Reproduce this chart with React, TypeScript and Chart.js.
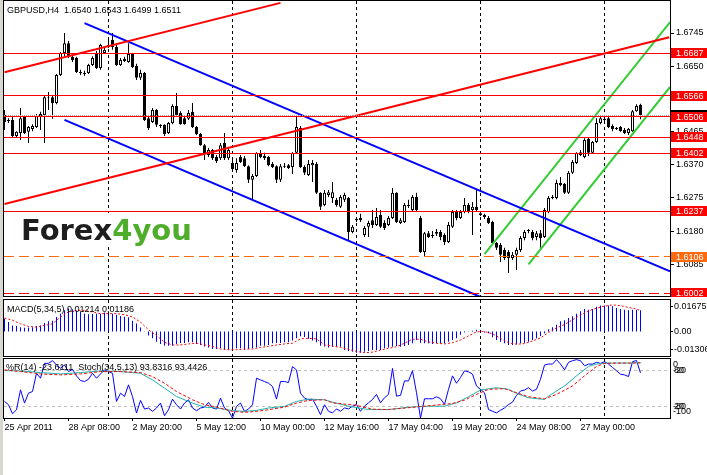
import React, { useEffect, useRef } from "react";
import { Chart, registerables } from "chart.js";

Chart.register(...registerables);
Chart.defaults.font.family = '"Liberation Sans", Arial, sans-serif';
Chart.defaults.font.size = 9;
Chart.defaults.color = "#000";

// ---------------- DATA ----------------
const openPrices = [
  1.6511, 1.6497, 1.6497, 1.6451, 1.646, 1.6505, 1.6463, 1.6471, 1.6477, 1.6505,
  1.6511, 1.6562, 1.6562, 1.6545, 1.6625, 1.6688, 1.6716, 1.6677, 1.6674, 1.6634,
  1.6631, 1.6631, 1.6654, 1.6688, 1.6645, 1.6688, 1.6705, 1.6725, 1.6705, 1.6654,
  1.6665, 1.6662, 1.6685, 1.6651, 1.6617, 1.6631, 1.6502, 1.6491, 1.6525, 1.6483,
  1.6483, 1.646, 1.6488, 1.6537, 1.6517, 1.6502, 1.65, 1.652, 1.6477, 1.6457,
  1.6425, 1.6397, 1.6411, 1.6391, 1.6388, 1.6431, 1.6388, 1.6374, 1.6354, 1.6391,
  1.6388, 1.6365, 1.6326, 1.6337, 1.6403, 1.6394, 1.6391, 1.6371, 1.6365, 1.6326,
  1.6365, 1.6368, 1.6363, 1.6403, 1.6474, 1.6363, 1.634, 1.6368, 1.6371, 1.6289,
  1.6254, 1.6283, 1.6274, 1.6269, 1.6249, 1.6269, 1.6274, 1.6177, 1.6214, 1.6217,
  1.6169, 1.6192, 1.6211, 1.6197, 1.6226, 1.6203, 1.6197, 1.6217, 1.6289, 1.6203,
  1.6206, 1.6251, 1.624, 1.6277, 1.6217, 1.612, 1.6174, 1.6169, 1.6172, 1.6177,
  1.6169, 1.6149, 1.6192, 1.6234, 1.6217, 1.6234, 1.6254, 1.624, 1.6249, 1.6231,
  1.6226, 1.6217, 1.6206, 1.6146, 1.614, 1.6126, 1.612, 1.6103, 1.6112, 1.6126,
  1.616, 1.618, 1.6177, 1.6163, 1.6174, 1.6163, 1.6234, 1.6274, 1.6274, 1.6311,
  1.6314, 1.6289, 1.6346, 1.6374, 1.6397, 1.6391, 1.6443, 1.6403, 1.6434, 1.6488,
  1.65, 1.6502, 1.648, 1.6474, 1.6477, 1.6468, 1.646, 1.6465, 1.6522, 1.654,
];
const closePrices = [
  1.6491, 1.6494, 1.6451, 1.6463, 1.6502, 1.646, 1.6477, 1.648, 1.6508, 1.6514,
  1.6562, 1.656, 1.6545, 1.6625, 1.6688, 1.6716, 1.6677, 1.6668, 1.6634, 1.6631,
  1.6628, 1.6654, 1.6674, 1.6645, 1.6711, 1.6697, 1.6711, 1.6705, 1.6654, 1.6668,
  1.6671, 1.6685, 1.6648, 1.6617, 1.6631, 1.6497, 1.6474, 1.6525, 1.6483, 1.648,
  1.6457, 1.6488, 1.6537, 1.6511, 1.6485, 1.6485, 1.6517, 1.6477, 1.6457, 1.6425,
  1.64, 1.6411, 1.6388, 1.638, 1.6425, 1.6388, 1.6411, 1.6357, 1.6374, 1.6377,
  1.6365, 1.6326, 1.6337, 1.6403, 1.6391, 1.6388, 1.6368, 1.6363, 1.6326, 1.6365,
  1.6363, 1.636, 1.6403, 1.6477, 1.6363, 1.6346, 1.6371, 1.6374, 1.6289, 1.6249,
  1.6289, 1.6291, 1.6291, 1.6254, 1.6277, 1.6283, 1.6177, 1.6192, 1.6211, 1.6211,
  1.6189, 1.6203, 1.6197, 1.622, 1.6192, 1.6189, 1.6217, 1.6289, 1.6206, 1.6211,
  1.6254, 1.6254, 1.6277, 1.624, 1.612, 1.6174, 1.6163, 1.6166, 1.6177, 1.6163,
  1.6149, 1.6197, 1.6234, 1.6217, 1.6234, 1.6254, 1.6234, 1.6249, 1.624, 1.6226,
  1.622, 1.6203, 1.6146, 1.6132, 1.6112, 1.6103, 1.6103, 1.6112, 1.6126, 1.616,
  1.6177, 1.6183, 1.616, 1.6174, 1.616, 1.624, 1.6274, 1.6277, 1.6317, 1.6317,
  1.6289, 1.6346, 1.6377, 1.6403, 1.6405, 1.644, 1.6403, 1.6434, 1.6488, 1.6502,
  1.6497, 1.6477, 1.6471, 1.6471, 1.6465, 1.646, 1.6471, 1.6522, 1.6537, 1.6511,
];
const highPrices = [
  1.6525, 1.6502, 1.6505, 1.6465, 1.6531, 1.6508, 1.648, 1.6485, 1.6514, 1.652,
  1.6565, 1.6577, 1.6565, 1.6628, 1.6691, 1.6745, 1.6722, 1.6682, 1.6677, 1.664,
  1.6637, 1.6657, 1.6679, 1.6694, 1.6714, 1.6702, 1.6725, 1.6745, 1.6711, 1.6674,
  1.6677, 1.6716, 1.6688, 1.6657, 1.664, 1.6634, 1.6508, 1.6531, 1.6528, 1.6485,
  1.6485, 1.6491, 1.6542, 1.6574, 1.6522, 1.6508, 1.6525, 1.6545, 1.648, 1.646,
  1.6428, 1.6417, 1.6414, 1.6397, 1.6431, 1.646, 1.6417, 1.6391, 1.6388, 1.6397,
  1.6394, 1.6368, 1.6343, 1.6405, 1.6411, 1.6403, 1.6394, 1.6377, 1.6368, 1.6371,
  1.6374, 1.6371, 1.6405, 1.6511, 1.648, 1.6368, 1.6383, 1.6383, 1.6377, 1.6291,
  1.6297, 1.6297, 1.632, 1.6274, 1.6283, 1.6289, 1.6277, 1.6197, 1.622, 1.6229,
  1.6194, 1.6209, 1.624, 1.6246, 1.624, 1.6211, 1.6223, 1.6303, 1.6291, 1.6217,
  1.626, 1.6269, 1.6283, 1.6289, 1.6223, 1.6177, 1.618, 1.618, 1.6186, 1.6183,
  1.6174, 1.6206, 1.624, 1.624, 1.624, 1.6274, 1.626, 1.6263, 1.6297, 1.6234,
  1.6229, 1.6223, 1.6209, 1.6149, 1.6146, 1.6132, 1.6126, 1.612, 1.6132, 1.6166,
  1.6183, 1.6186, 1.6183, 1.618, 1.6183, 1.6246, 1.628, 1.6283, 1.6326, 1.6334,
  1.6317, 1.6351, 1.6383, 1.6405, 1.6411, 1.6445, 1.6448, 1.6437, 1.6502, 1.6505,
  1.6508, 1.6508, 1.6485, 1.6477, 1.648, 1.6474, 1.6474, 1.6525, 1.6542, 1.6543,
];
const lowPrices = [
  1.6468, 1.6488, 1.6448, 1.6448, 1.644, 1.6457, 1.6431, 1.6465, 1.6474, 1.6468,
  1.6431, 1.6525, 1.65, 1.6542, 1.6622, 1.6679, 1.6674, 1.6662, 1.6631, 1.6625,
  1.6622, 1.6628, 1.6651, 1.6642, 1.664, 1.6685, 1.6702, 1.6697, 1.6651, 1.6651,
  1.6662, 1.666, 1.6645, 1.6611, 1.6611, 1.6494, 1.6468, 1.6488, 1.6477, 1.6474,
  1.6451, 1.6457, 1.6485, 1.6508, 1.6483, 1.6483, 1.6497, 1.6474, 1.6454, 1.6423,
  1.6383, 1.6391, 1.6383, 1.6374, 1.6383, 1.6383, 1.6383, 1.6354, 1.6346, 1.6374,
  1.6363, 1.6317, 1.6269, 1.6334, 1.6388, 1.6383, 1.6365, 1.636, 1.6317, 1.632,
  1.636, 1.6357, 1.6343, 1.64, 1.636, 1.634, 1.6337, 1.632, 1.6286, 1.624,
  1.6251, 1.6277, 1.626, 1.6249, 1.6246, 1.6263, 1.6154, 1.6174, 1.6206, 1.6206,
  1.6163, 1.6163, 1.6189, 1.6194, 1.6189, 1.6183, 1.6194, 1.6214, 1.6203, 1.62,
  1.6203, 1.6246, 1.6237, 1.6237, 1.6117, 1.6109, 1.616, 1.616, 1.6166, 1.6154,
  1.614, 1.6146, 1.6189, 1.6211, 1.6214, 1.6231, 1.6231, 1.6169, 1.6237, 1.6223,
  1.6214, 1.62, 1.6143, 1.6126, 1.6092, 1.6097, 1.606, 1.6097, 1.6069, 1.612,
  1.6154, 1.6174, 1.6154, 1.6154, 1.6132, 1.616, 1.6231, 1.6271, 1.6271, 1.6308,
  1.6286, 1.6286, 1.6343, 1.6371, 1.6394, 1.6388, 1.6394, 1.64, 1.6431, 1.6485,
  1.6494, 1.6474, 1.6465, 1.6468, 1.6463, 1.6457, 1.6454, 1.6463, 1.652, 1.6499,
];

const macdHist = [
  0.0073, 0.0054, 0.0035, 0.0031, 0.0025, 0.0021, 0.0023, 0.0025, 0.0031, 0.0035,
  0.0048, 0.0058, 0.0062, 0.0083, 0.0102, 0.0121, 0.0131, 0.0127, 0.0119, 0.0112,
  0.0102, 0.0098, 0.01, 0.0102, 0.0102, 0.0108, 0.0102, 0.0102, 0.0096, 0.0089,
  0.0085, 0.0081, 0.0062, 0.0046, 0.0023, -0.0002, -0.0023, -0.0039, -0.0058, -0.0071,
  -0.0081, -0.0081, -0.0081, -0.0071, -0.0066, -0.0066, -0.0062, -0.0062, -0.0071, -0.0077,
  -0.0085, -0.0091, -0.01, -0.01, -0.0096, -0.0104, -0.0104, -0.01, -0.0096, -0.0096,
  -0.0104, -0.01, -0.0096, -0.0091, -0.0081, -0.0081, -0.0077, -0.0067, -0.0066, -0.0066,
  -0.0062, -0.0062, -0.0052, -0.0039, -0.0027, -0.0031, -0.0042, -0.0052, -0.0062, -0.0081,
  -0.0085, -0.0091,
  -0.0087, -0.0087, -0.0087, -0.0106, -0.0112, -0.0116, -0.0121, -0.0121, -0.0116, -0.0112,
  -0.0106, -0.0106, -0.0106, -0.0096, -0.0091, -0.0087, -0.0083, -0.0087, -0.0083, -0.0077,
  -0.0067, -0.0048, -0.0064, -0.0067, -0.0067, -0.0071, -0.0067, -0.0067, -0.0067, -0.0058,
  -0.0048, -0.0039, -0.0019, -0.0006, 0.0002, 0.0004, 0.001, -0.0003, -0.0006, -0.001,
  -0.0033, -0.0048, -0.0058, -0.0067, -0.0077, -0.0077, -0.0073, -0.0067, -0.0064, -0.0058,
  -0.0048, -0.0039, -0.0025, -0.001, 0.0013, 0.0025, 0.0039, 0.0058, 0.0064, 0.0077,
  0.0087, 0.0102, 0.0116, 0.0129, 0.0125, 0.0129, 0.0141, 0.0148, 0.0148, 0.0148,
  0.0145, 0.0135, 0.0129, 0.0125, 0.0121, 0.0125, 0.0125, 0.01214,
];
const macdSignalBars = [
  0, 2, 4, 6, 8, 10, 12, 14, 16, 18, 20, 22, 24, 26, 28, 30, 32, 34, 36, 38,
  40, 42, 44, 46, 48, 50, 52, 54, 56, 58, 60, 62, 64, 66, 68, 70, 72, 74, 76, 78,
  80, 82, 84, 86, 88, 90, 92, 94, 96, 98, 100, 102, 104, 106, 108, 110, 112, 114, 116, 118,
  120, 122, 124, 126, 128, 130, 132, 134, 136, 138, 140, 142, 144, 146, 148, 150, 152, 154, 156, 158, 159,
];
const macdSignalVals = [
  0.0077, 0.0064, 0.0044, 0.0029, 0.0025, 0.0035, 0.0044, 0.0083, 0.0112, 0.0121,
  0.0121, 0.0112, 0.0102, 0.0102, 0.0102, 0.0096, 0.0083, 0.0054, 0.001, -0.0023,
  -0.0062, -0.0077, -0.0077, -0.0071, -0.0066, -0.0077, -0.0085, -0.01, -0.0104, -0.0104,
  -0.01, -0.01, -0.0091, -0.0085, -0.0077, -0.0071, -0.0067, -0.0042, -0.0039, -0.0042,
  -0.0077, -0.0083, -0.0091, -0.0102, -0.0114, -0.0121, -0.0118, -0.0106, -0.0096, -0.0087,
  -0.0067, -0.0044, -0.0044, -0.006, -0.0067, -0.0071, -0.0064, -0.0048, -0.0025, -0.0002,
  0.0, -0.0013, -0.0039, -0.0064, -0.0073, -0.0069, -0.0054, -0.0037, -0.0006, 0.0021,
  0.004, 0.0067, 0.0094, 0.0118, 0.0133, 0.0145, 0.0152, 0.0148, 0.0137, 0.0129, 0.01186,
];
const macdAxisLabels = [0.01675, 0.0, -0.01306];

const williamsR = [
  -71.9, -77.5, -92.7, -86.0, -52.2, -74.7, -57.9, -55.1, -24.2, -32.6,
  -7.3, -7.3, -2.8, -10.1, -15.7, -10.1, -21.3, -17.4, -28.7, -36.5,
  -38.2, -34.3, -24.2, -32.6, -25.3, -18.5, -21.3, -24.2, -71.9, -57.9,
  -63.5, -43.8, -63.5, -91.6, -70.2, -84.8, -83.1, -88.8, -83.1, -74.7,
  -96.1, -86.0, -68.0, -77.5, -84.8, -74.7, -69.1, -83.1, -87.6, -83.1,
  -81.5, -73.6, -83.1, -84.8, -66.3, -83.1, -87.6, -100, -80.3, -74.7,
  -88.8, -84.8, -77.5, -32.6, -35.4, -38.2, -41.0, -46.6, -68.0, -38.2,
  -38.2, -39.9, -12.9, -18.5, -57.9, -66.3, -69.1, -68.0, -80.3, -94.4,
  -77.5, -88.6, -91.4, -84.6, -88.6, -82.9, -84.6, -80.0, -77.1, -88.6,
  -80.0, -74.3, -68.6, -60.0, -74.3, -65.7, -60.0, -16.0, -62.9, -61.7,
  -37.1, -37.1, -20.0, -57.1, -100, -67.4, -67.4, -67.4, -64.0, -67.4,
  -77.1, -51.4, -28.6, -41.1, -31.4, -20.0, -21.7, -25.7, -45.7, -51.4,
  -57.1, -85.7, -88.6, -91.4, -86.9, -82.9, -77.1, -73.1, -61.7, -54.3,
  -52.6, -48.6, -54.3, -51.4, -34.3, -10.3, -8.6, -8.6, -1.1, -8.6,
  -18.3, -5.7, -2.9, -1.1, -2.9, -11.4, -8.6, -8.6, -5.7, -7.4,
  -4.6, -8.6, -14.3, -20.0, -25.7, -27.0, -29.7, -4.6, -2.5, -23.6111,
];
const stochMainBars = [
  0, 4, 9, 14, 19, 24, 29, 34, 37, 40, 43, 47, 50, 53, 57, 60, 63, 66, 70, 73, 76, 80,
  82, 86, 91, 96, 101, 106, 110, 113, 116, 119, 123, 126, 128, 131, 135, 136, 140, 143, 146, 148, 150, 153, 156, 159,
];
const stochMainVals = [
  80.3, 79.8, 77.0, 74.7, 77.0, 79.8, 78.7, 75.8, 64.6, 50.6, 36.5, 25.3, 18.5, 16.9, 12.4, 11.2, 12.9, 16.9, 19.7, 28.1, 32.0, 30.9,
  26.9, 20.0, 14.3, 14.3, 18.3, 20.0, 20.0, 25.7, 36.0, 47.4, 51.4, 48.6, 41.7, 34.3, 31.4, 37.1, 54.3, 71.4, 87.4, 91.4, 93.1, 93.1, 93.1, 93.8316,
];
const stochSignalBars = [
  0, 4, 9, 14, 19, 24, 29, 34, 37, 40, 43, 47, 50, 53, 57, 60, 63, 66, 70, 73, 76, 80,
  82, 88, 92, 96, 105, 112, 115, 118, 121, 125, 128, 131, 135, 138, 142, 145, 148, 150, 153, 156, 159,
];
const stochSignalVals = [
  81.5, 78.7, 74.7, 73.0, 74.7, 78.7, 78.7, 77.0, 70.2, 59.0, 44.9, 30.9, 22.5, 18.5, 11.2, 9.6, 11.2, 14.0, 18.5, 25.3, 29.8, 30.9,
  25.7, 21.5, 15.0, 14.3, 20.0, 24.6, 30.3, 40.0, 48.6, 49.7, 42.9, 36.0, 32.6, 40.0, 54.3, 71.4, 87.4, 92.6, 93.1, 93.1, 93.4426,
];
const stochLevels = [80, 20];
const wprLevels = [-20, -80];

const priceAxisTicks = [1.6745, 1.665, 1.656, 1.6465, 1.637, 1.6275, 1.618, 1.6085];
const solidLevels = [1.6687, 1.6566, 1.6506, 1.6448, 1.6402, 1.6237];
const orangeLevels = [1.6106];
const dashedRedLevels = [1.6002];
const bidPrice = 1.6511;

const redChannelUpper = [{ x: 0, y: 1.6633 }, { x: 69, y: 1.6831 }];
const redChannelLower = [{ x: 0, y: 1.6257 }, { x: 166.2, y: 1.6733 }];
const blueChannelUpper = [{ x: 20, y: 1.6773 }, { x: 166.4, y: 1.6065 }];
const blueChannelLower = [{ x: 15, y: 1.6497 }, { x: 119, y: 1.5992 }];
const greenChannelUpper = [{ x: 120, y: 1.6114 }, { x: 166.4, y: 1.6776 }];
const greenChannelLower = [{ x: 131, y: 1.6085 }, { x: 166.4, y: 1.6591 }];

const timeLabelBars = [0, 16, 32, 48, 64, 80, 96, 112, 128, 144];
const timeLabels = [
  "25 Apr 2011", "28 Apr 08:00", "2 May 20:00", "5 May 12:00", "10 May 00:00",
  "12 May 16:00", "17 May 04:00", "19 May 20:00", "24 May 08:00", "27 May 00:00",
];
const gridBars = [26, 57, 88, 119, 150];

const headerText = "GBPUSD,H4  1.6540 1.6543 1.6499 1.6511";
const macdTitle = "MACD(5,34,5) 0.01214 0.01186";
const oscTitle = "%R(14) -23.6111  Stoch(34,5,13) 93.8316 93.4426";

// ---------------- AXIS RANGES ----------------
const X_MIN = -0.125;
const X_MAX = 166.375;
const MAIN_MAX = 1.68363;
const MAIN_MIN = 1.599464;
const MACD_MAX = 0.018;
const MACD_MIN = -0.014;

const FONT = '9px "Liberation Sans", Arial, sans-serif';

function drawGrid(chart: any) {
  const { ctx, chartArea: a, scales } = chart;
  const xs = scales.x;
  ctx.save();
  ctx.strokeStyle = "#000";
  ctx.lineWidth = 1;
  ctx.setLineDash([3, 3]);
  for (const b of gridBars) {
    const x = Math.round(xs.getPixelForValue(b) - 0.5) + 0.5;
    ctx.beginPath();
    ctx.moveTo(x, a.top);
    ctx.lineTo(x, a.bottom);
    ctx.stroke();
  }
  ctx.restore();
}

function drawFrame(chart: any) {
  const { ctx, chartArea: a } = chart;
  ctx.save();
  ctx.strokeStyle = "#000";
  ctx.lineWidth = 1;
  ctx.setLineDash([]);
  ctx.strokeRect(a.left - 0.5, a.top - 0.5, a.right - a.left + 1, a.bottom - a.top + 1);
  ctx.restore();
}

function drawText(ctx: any, text: string, x: number, y: number, color = "#000", baseline = "alphabetic") {
  ctx.save();
  ctx.font = FONT;
  ctx.fillStyle = color;
  ctx.textBaseline = baseline;
  ctx.fillText(text, x, y);
  ctx.restore();
}

const mainPlugin = {
  id: "mainDecor",
  beforeDatasetsDraw(chart: any) {
    drawGrid(chart);
  },
  afterDatasetsDraw(chart: any) {
    const { ctx, chartArea: a, scales } = chart;
    const ys = scales.y;
    const py = (p: number) => Math.round(ys.getPixelForValue(p) - 0.5) + 0.5;
    const hline = (y: number) => {
      ctx.beginPath();
      ctx.moveTo(a.left, y);
      ctx.lineTo(a.right, y);
      ctx.stroke();
    };
    ctx.save();
    ctx.beginPath();
    ctx.rect(a.left, a.top, a.right - a.left, a.bottom - a.top);
    ctx.clip();
    ctx.lineWidth = 1;
    ctx.strokeStyle = "#a8a8a8";
    ctx.setLineDash([1, 1]);
    hline(py(bidPrice));
    ctx.setLineDash([]);
    ctx.strokeStyle = "#ff0000";
    solidLevels.forEach((p) => hline(py(p)));
    ctx.setLineDash([10, 5]);
    ctx.strokeStyle = "#ff6a10";
    orangeLevels.forEach((p) => hline(py(p)));
    ctx.strokeStyle = "#ff0000";
    dashedRedLevels.forEach((p) => hline(py(p)));
    ctx.restore();

    // logo
    ctx.save();
    ctx.fillStyle = "#ffffff";
    ctx.fillRect(18, 213, 175, 33);
    ctx.font = 'bold 29px "DejaVu Sans", sans-serif';
    ctx.textBaseline = "alphabetic";
    ctx.fillStyle = "#1e1e1e";
    ctx.fillText("Forex", 21, 240);
    const w = ctx.measureText("Forex").width;
    ctx.fillStyle = "#4fad2c";
    ctx.fillText("4you", 21 + w, 240);
    ctx.restore();

    drawText(ctx, headerText, 7, 13);
  },
  afterDraw(chart: any) {
    const { ctx, chartArea: a, scales } = chart;
    const ys = scales.y;
    const box = (p: number, bg: string) => {
      const cy = Math.round(ys.getPixelForValue(p));
      ctx.fillStyle = bg;
      ctx.fillRect(a.right + 1, cy - 5, 707 - a.right - 1, 10);
      drawText(ctx, p.toFixed(4), a.right + 6, cy + 0.5, "#fff", "middle");
    };
    ctx.save();
    box(bidPrice, "#000000");
    solidLevels.forEach((p) => box(p, "#ff0000"));
    orangeLevels.forEach((p) => box(p, "#ff6a10"));
    dashedRedLevels.forEach((p) => box(p, "#ff0000"));
    ctx.restore();
    drawFrame(chart);
  },
};

const macdPlugin = {
  id: "macdDecor",
  beforeDatasetsDraw(chart: any) {
    drawGrid(chart);
  },
  afterDraw(chart: any) {
    const { ctx, chartArea: a, scales } = chart;
    const ys = scales.y;
    drawText(ctx, macdTitle, 7, 14);
    drawFrame(chart);
    const pos = [
      ys.getPixelForValue(macdAxisLabels[0]) + 4.5,
      ys.getPixelForValue(macdAxisLabels[1]),
      ys.getPixelForValue(macdAxisLabels[2]) - 5,
    ];
    const txt = [macdAxisLabels[0].toFixed(5), "0.00", macdAxisLabels[2].toFixed(5)];
    ctx.save();
    ctx.strokeStyle = "#000";
    ctx.lineWidth = 1;
    pos.forEach((y, i) => {
      const yy = Math.round(y - 0.5) + 0.5;
      ctx.beginPath();
      ctx.moveTo(a.right, yy);
      ctx.lineTo(a.right + 3, yy);
      ctx.stroke();
      drawText(ctx, txt[i], a.right + 4, y, "#000", "middle");
    });
    ctx.restore();
  },
};

const oscPlugin = {
  id: "oscDecor",
  beforeDatasetsDraw(chart: any) {
    const { ctx, chartArea: a, scales } = chart;
    drawGrid(chart);
    ctx.save();
    ctx.strokeStyle = "#c0c0c0";
    ctx.lineWidth = 1;
    ctx.setLineDash([3, 3]);
    stochLevels.forEach((v) => {
      const y = Math.round(scales.yS.getPixelForValue(v) - 0.5) + 0.5;
      ctx.beginPath();
      ctx.moveTo(a.left, y);
      ctx.lineTo(a.right, y);
      ctx.stroke();
    });
    ctx.restore();
  },
  afterDraw(chart: any) {
    const { ctx, chartArea: a, scales } = chart;
    drawText(ctx, oscTitle, 6, 13);
    drawFrame(chart);
    const yR = scales.yR;
    const yS = scales.yS;
    const x = a.right + 3;
    drawText(ctx, "0", x, yR.getPixelForValue(0) + 5.5, "#000", "middle");
    drawText(ctx, String(wprLevels[0]), x, yR.getPixelForValue(wprLevels[0]), "#000", "middle");
    drawText(ctx, String(stochLevels[0]), x + 1, yS.getPixelForValue(stochLevels[0]), "#000", "middle");
    drawText(ctx, String(stochLevels[1]), x + 1, yS.getPixelForValue(stochLevels[1]), "#000", "middle");
    drawText(ctx, String(wprLevels[1]), x, yR.getPixelForValue(wprLevels[1]), "#000", "middle");
    drawText(ctx, "-100", x, yR.getPixelForValue(-100) - 6.5, "#000", "middle");
  },
};

function hiddenX() {
  return { type: "linear", min: X_MIN, max: X_MAX, offset: false, display: false };
}

function baseOptions(padding: any) {
  return {
    responsive: false,
    animation: false,
    events: [],
    layout: { padding },
    plugins: { legend: { display: false }, tooltip: { enabled: false } },
  };
}

function mainConfig(): any {
  const idx = openPrices.map((_, i) => i);
  const trend = (data: any, color: string) => ({
    type: "line",
    data,
    borderColor: color,
    borderWidth: 2,
    pointRadius: 0,
    tension: 0,
    fill: false,
    clip: 0,
    order: 0,
  });
  return {
    type: "bar",
    data: {
      datasets: [
        trend(redChannelUpper, "#ff0000"),
        trend(redChannelLower, "#ff0000"),
        trend(blueChannelUpper, "#0000ff"),
        trend(blueChannelLower, "#0000ff"),
        trend(greenChannelUpper, "#32cd32"),
        trend(greenChannelLower, "#32cd32"),
        {
          type: "bar",
          data: idx.map((i) => ({ x: i, y: [openPrices[i], closePrices[i]] })),
          backgroundColor: idx.map((i) => (closePrices[i] >= openPrices[i] ? "#ffffff" : "#000000")),
          borderColor: "#000000",
          borderWidth: 1,
          borderSkipped: false,
          barThickness: 3,
          grouped: false,
          inflateAmount: 0,
          order: 1,
        },
        {
          type: "bar",
          data: idx.map((i) => ({ x: i, y: [lowPrices[i], highPrices[i]] })),
          backgroundColor: "#000000",
          borderWidth: 0,
          barThickness: 1,
          grouped: false,
          inflateAmount: 0,
          order: 2,
        },
      ],
    },
    options: {
      ...baseOptions({ left: 4, top: 1, right: 0, bottom: 1 }),
      scales: {
        x: hiddenX(),
        y: {
          type: "linear",
          position: "right",
          min: MAIN_MIN,
          max: MAIN_MAX,
          afterBuildTicks: (s: any) => {
            s.ticks = priceAxisTicks.map((v) => ({ value: v }));
          },
          afterFit: (s: any) => {
            s.width = 37;
            s.paddingTop = 0;
            s.paddingBottom = 0;
          },
          grid: { drawOnChartArea: false, drawTicks: true, tickLength: 4, color: "#000" },
          border: { display: false },
          ticks: {
            padding: 2,
            color: "#000",
            autoSkip: false,
            font: { size: 9 },
            callback: (v: any) => Number(v).toFixed(4),
          },
        },
      },
    },
    plugins: [mainPlugin],
  };
}

function macdConfig(): any {
  return {
    type: "bar",
    data: {
      datasets: [
        {
          type: "line",
          data: macdSignalBars.map((b, k) => ({ x: b, y: macdSignalVals[k] })),
          borderColor: "#ff0000",
          borderWidth: 1,
          borderDash: [2, 2],
          pointRadius: 0,
          tension: 0,
          fill: false,
          order: 0,
        },
        {
          type: "bar",
          data: macdHist.map((v, i) => ({ x: i, y: v })),
          backgroundColor: "#0000ff",
          borderWidth: 0,
          barThickness: 1,
          grouped: false,
          inflateAmount: 0,
          order: 1,
        },
      ],
    },
    options: {
      ...baseOptions({ left: 4, top: 2, right: 37, bottom: 2 }),
      scales: {
        x: hiddenX(),
        y: { type: "linear", display: false, min: MACD_MIN, max: MACD_MAX },
      },
    },
    plugins: [macdPlugin],
  };
}

function oscConfig(): any {
  return {
    type: "line",
    data: {
      datasets: [
        {
          data: williamsR.map((v, i) => ({ x: i, y: v })),
          yAxisID: "yR",
          borderColor: "#0000ff",
          borderWidth: 1,
          pointRadius: 0,
          tension: 0,
          fill: false,
          order: 2,
        },
        {
          data: stochMainBars.map((b, k) => ({ x: b, y: stochMainVals[k] })),
          yAxisID: "yS",
          borderColor: "#20b2aa",
          borderWidth: 1,
          pointRadius: 0,
          tension: 0,
          fill: false,
          order: 1,
        },
        {
          data: stochSignalBars.map((b, k) => ({ x: b, y: stochSignalVals[k] })),
          yAxisID: "yS",
          borderColor: "#ff0000",
          borderWidth: 1,
          borderDash: [3, 2],
          pointRadius: 0,
          tension: 0,
          fill: false,
          order: 0,
        },
      ],
    },
    options: {
      ...baseOptions({ left: 4, top: 2, right: 37, bottom: 0 }),
      scales: {
        x: {
          type: "linear",
          position: "bottom",
          min: X_MIN,
          max: X_MAX,
          offset: false,
          afterBuildTicks: (s: any) => {
            s.ticks = timeLabelBars.map((v) => ({ value: v }));
          },
          afterFit: (s: any) => {
            s.height = 57;
            s.paddingLeft = 0;
            s.paddingRight = 0;
          },
          grid: { drawOnChartArea: false, drawTicks: true, tickLength: 3, color: "#000" },
          border: { display: false },
          ticks: {
            align: "start",
            padding: 1,
            color: "#000",
            autoSkip: false,
            maxRotation: 0,
            minRotation: 0,
            font: { size: 9 },
            callback: (_v: any, i: number) => timeLabels[i],
          },
        },
        yR: { type: "linear", display: false, min: -100, max: 0 },
        yS: { type: "linear", display: false, min: 0, max: 100 },
      },
    },
    plugins: [oscPlugin],
  };
}

export default function App() {
  const mainRef = useRef<HTMLCanvasElement>(null);
  const macdRef = useRef<HTMLCanvasElement>(null);
  const oscRef = useRef<HTMLCanvasElement>(null);

  useEffect(() => {
    const charts = [
      new Chart(mainRef.current as HTMLCanvasElement, mainConfig()),
      new Chart(macdRef.current as HTMLCanvasElement, macdConfig()),
      new Chart(oscRef.current as HTMLCanvasElement, oscConfig()),
    ];
    return () => charts.forEach((c) => c.destroy());
  }, []);

  return (
    <div
      style={{
        position: "fixed",
        left: 0,
        top: 0,
        width: 707,
        height: 475,
        background: "#ffffff",
        overflow: "hidden",
      }}
    >
      <div style={{ position: "absolute", left: 0, top: 0, width: 3, height: 475, background: "#d9d6d0" }} />
      <canvas ref={mainRef} width={707} height={297} style={{ position: "absolute", left: 0, top: 0 }} />
      <canvas ref={macdRef} width={707} height={60} style={{ position: "absolute", left: 0, top: 298 }} />
      <canvas ref={oscRef} width={707} height={118} style={{ position: "absolute", left: 0, top: 357 }} />
    </div>
  );
}
